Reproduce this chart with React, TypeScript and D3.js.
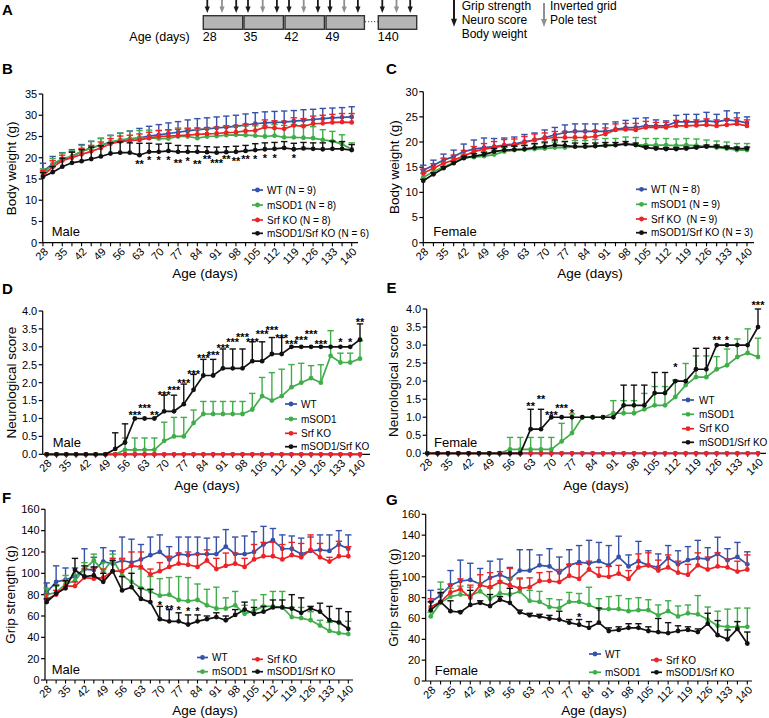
import React from "react";
import * as d3 from "d3";

// ---------- shared categories ----------
const DAYS = [28, 31.5, 35, 38.5, 42, 45.5, 49, 52.5, 56, 59.5, 63, 66.5, 70, 73.5, 77, 80.5, 84, 87.5, 91, 94.5, 98, 101.5, 105, 108.5, 112, 115.5, 119, 122.5, 126, 129.5, 133, 136.5, 140];
const TICK_DAYS = [28, 35, 42, 49, 56, 63, 70, 77, 84, 91, 98, 105, 112, 119, 126, 133, 140];
const GROUPS = ["WT", "mSOD1", "Srf KO", "mSOD1/Srf KO"];
const COLORS = ["#3651a8", "#3fae49", "#ec2227", "#111111"];

// ---------- B: male body weight ----------
const bwMaleWT = [16.8, 18.5, 19.5, 20.3, 21.5, 22.3, 23.0, 23.6, 24.0, 24.3, 24.7, 25.1, 25.4, 25.7, 26.0, 26.3, 26.6, 26.8, 27.0, 27.2, 27.4, 27.7, 28.0, 28.2, 28.3, 28.4, 28.6, 28.8, 29.0, 29.2, 29.4, 29.5, 29.6];
const bwMaleWTErr = [1.9, 1.8, 1.7, 1.6, 1.6, 1.6, 1.6, 1.7, 1.8, 2.0, 2.2, 2.3, 2.4, 2.5, 2.5, 2.6, 2.6, 2.6, 2.6, 2.6, 2.6, 2.6, 2.6, 2.6, 2.6, 2.6, 2.5, 2.5, 2.4, 2.4, 2.3, 2.3, 2.4];
const bwMaleSOD = [16.2, 18.5, 19.8, 20.3, 21.5, 22.3, 23.0, 23.7, 24.2, 24.5, 24.6, 24.7, 24.5, 24.5, 25.0, 25.0, 24.6, 25.0, 25.1, 25.3, 25.4, 25.3, 25.2, 25.0, 25.2, 24.8, 24.8, 24.7, 24.6, 24.2, 23.9, 23.2, 22.0];
const bwMaleSODErr = [1.2, 1.3, 1.3, 1.3, 1.4, 1.5, 1.5, 1.5, 1.6, 1.7, 1.8, 1.8, 1.9, 2.0, 2.0, 2.0, 2.0, 2.0, 2.0, 2.1, 2.1, 2.2, 2.3, 2.5, 2.6, 2.8, 3.0, 3.0, 2.7, 2.4, 2.3, 2.2, 1.5];
const bwMaleKO = [15.8, 17.8, 19.3, 20.0, 20.8, 21.5, 22.3, 23.3, 23.8, 24.0, 24.2, 24.6, 25.0, 25.1, 25.2, 25.3, 25.5, 25.6, 25.7, 25.9, 26.0, 26.3, 26.4, 27.2, 27.0, 26.8, 27.6, 27.4, 28.0, 28.1, 28.3, 28.4, 28.3];
const bwMaleKOErr = [1.2, 1.5, 1.3, 1.4, 1.4, 1.4, 1.4, 1.2, 1.3, 1.3, 1.4, 1.4, 1.4, 1.5, 1.5, 1.5, 1.5, 1.5, 1.5, 1.6, 1.6, 1.6, 1.6, 1.7, 1.7, 1.8, 1.8, 1.8, 1.8, 1.9, 1.9, 2.0, 2.1];
const bwMaleDKO = [15.5, 16.6, 17.9, 18.8, 19.2, 19.7, 20.3, 21.0, 21.2, 21.2, 20.6, 21.4, 21.4, 21.6, 21.4, 21.4, 21.4, 21.3, 21.2, 21.3, 21.4, 21.6, 21.8, 22.0, 22.1, 22.3, 22.0, 22.2, 22.1, 22.0, 22.1, 22.1, 21.8];
const bwMaleDKOErr = [1.0, 1.3, 2.0, 2.5, 2.7, 2.8, 2.5, 2.5, 2.5, 2.3, 2.8, 2.0, 1.8, 1.8, 1.5, 1.4, 1.4, 1.3, 1.3, 1.3, 1.3, 1.3, 1.5, 1.5, 1.5, 1.5, 1.4, 1.4, 1.4, 1.5, 1.8, 1.7, 1.3];
const bwMaleStars = ["", "", "", "", "", "", "", "", "", "", "**", "*", "*", "*", "**", "*", "**", "**", "***", "**", "**", "**", "*", "*", "*", "", "*", "", "", "", "", "", ""];
const bwMaleStarY = [0, 0, 0, 0, 0, 0, 0, 0, 0, 0, 18.9, 19.9, 19.9, 19.9, 19.2, 19.7, 18.9, 20.1, 19.2, 20.1, 19.7, 20.1, 20.25, 20.4, 20.4, 0, 20.4, 0, 0, 0, 0, 0, 0];
const bwMaleLegend = ["WT (N = 9)", "mSOD1 (N = 8)", "Srf KO (N = 8)", "mSOD1/Srf KO (N = 6)"];

// ---------- C: female body weight ----------
const bwFemWT = [14.4, 15.4, 16.4, 17.1, 18.1, 18.6, 18.9, 19.1, 19.4, 19.6, 20.1, 20.4, 20.9, 21.4, 21.9, 22.1, 22.1, 22.1, 22.1, 22.5, 22.8, 22.9, 23.2, 23.2, 23.2, 24.0, 24.0, 24.0, 24.2, 24.0, 24.4, 24.2, 23.8];
const bwFemWTErr = [1.0, 1.0, 1.2, 1.3, 1.5, 1.8, 1.9, 1.6, 1.4, 1.4, 1.4, 1.4, 1.5, 1.5, 1.5, 1.5, 1.5, 1.5, 1.5, 1.5, 1.5, 1.8, 1.6, 1.2, 1.0, 1.3, 1.5, 1.5, 1.7, 1.5, 1.8, 1.6, 1.2];
const bwFemSOD = [13.0, 14.1, 15.1, 15.9, 16.9, 17.0, 17.2, 17.5, 18.1, 18.4, 18.5, 18.6, 18.7, 18.9, 18.9, 19.1, 19.1, 19.2, 19.4, 19.4, 19.7, 19.5, 19.4, 19.4, 19.4, 19.3, 19.4, 19.3, 19.1, 18.9, 18.7, 18.4, 18.4];
const bwFemSODErr = [0.8, 0.8, 0.8, 0.8, 0.7, 0.7, 0.7, 0.8, 0.8, 0.8, 0.9, 1.0, 1.1, 1.1, 1.2, 1.2, 1.2, 1.3, 1.3, 1.3, 1.3, 1.4, 1.3, 1.3, 1.3, 1.3, 1.3, 1.3, 1.3, 1.3, 1.3, 1.3, 1.3];
const bwFemKO = [13.8, 14.8, 15.8, 16.4, 17.2, 18.1, 18.6, 18.9, 19.3, 19.4, 19.9, 20.4, 20.7, 20.9, 20.9, 20.9, 20.9, 21.1, 21.6, 22.4, 22.5, 22.4, 22.9, 22.9, 22.9, 23.2, 23.2, 23.3, 23.4, 23.2, 23.4, 23.6, 23.2];
const bwFemKOErr = [0.8, 0.9, 1.0, 1.0, 1.1, 1.0, 1.1, 1.2, 1.2, 1.2, 1.2, 1.2, 1.1, 1.2, 1.2, 1.2, 1.2, 1.2, 1.2, 1.2, 1.2, 1.3, 1.2, 1.0, 1.0, 1.1, 1.1, 1.1, 1.2, 1.2, 1.2, 1.2, 1.2];
const bwFemDKO = [12.3, 13.6, 14.8, 15.8, 16.8, 17.2, 17.5, 18.1, 18.4, 18.5, 18.6, 18.9, 19.1, 19.4, 19.3, 19.1, 19.1, 19.2, 19.3, 19.4, 19.6, 19.4, 18.9, 18.7, 18.6, 18.6, 18.7, 18.9, 19.1, 19.1, 18.9, 18.7, 18.7];
const bwFemDKOErr = [0.3, 0.3, 0.3, 0.3, 0.4, 0.5, 0.5, 0.6, 0.7, 0.7, 0.7, 0.8, 0.9, 1.0, 0.8, 0.7, 0.6, 0.6, 0.6, 0.5, 0.5, 0.4, 0.3, 0.3, 0.3, 0.3, 0.3, 0.3, 0.3, 0.3, 0.3, 0.3, 0.3];
const bwFemLegend = ["WT (N = 8)", "mSOD1 (N = 9)", "Srf KO  (N = 9)", "mSOD1/Srf KO (N = 3)"];

// ---------- D: male neurological score ----------
const nsMaleWT = [0, 0, 0, 0, 0, 0, 0, 0, 0, 0, 0, 0, 0, 0, 0, 0, 0, 0, 0, 0, 0, 0, 0, 0, 0, 0, 0, 0, 0, 0, 0, 0, 0];
const nsMaleKO = [0, 0, 0, 0, 0, 0, 0, 0, 0, 0, 0, 0, 0, 0, 0, 0, 0, 0, 0, 0, 0, 0, 0, 0, 0, 0, 0, 0, 0, 0, 0, 0, 0];
const nsMaleSOD = [0, 0, 0, 0, 0, 0, 0, 0, 0.125, 0.125, 0.125, 0.125, 0.375, 0.5, 0.5, 0.875, 1.125, 1.125, 1.125, 1.125, 1.125, 1.25, 1.625, 1.5, 1.625, 1.875, 2.0, 2.125, 2.0, 2.75, 2.5625, 2.5625, 2.67];
const nsMaleSODErr = [0, 0, 0, 0, 0, 0, 0, 0, 0.33, 0.33, 0.33, 0.33, 0.52, 0.53, 0.53, 0.36, 0.35, 0.35, 0.35, 0.35, 0.35, 0.45, 0.52, 0.78, 0.75, 0.63, 0.54, 0.35, 0.5, 0.7, 0.26, 0.26, 0.5];
const nsMaleDKO = [0, 0, 0, 0, 0, 0, 0, 0.15, 0.33, 1.0, 1.0, 1.0, 1.2, 1.2, 1.4, 1.8, 2.2, 2.2, 2.4, 2.4, 2.4, 2.6, 2.6, 2.8, 2.8, 3.0, 3.0, 3.0, 3.0, 3.0, 3.0, 3.0, 3.2];
const nsMaleDKOErr = [0, 0, 0, 0, 0, 0, 0, 0.45, 0.52, 0, 0, 0, 0.45, 0.45, 0.56, 0.43, 0.45, 0.45, 0.54, 0.54, 0.54, 0.54, 0.54, 0.46, 0.46, 0, 0, 0, 0, 0, 0, 0, 0.44];
const nsMaleStars = ["", "", "", "", "", "", "", "", "", "***", "***", "**", "***", "***", "***", "***", "***", "***", "***", "***", "***", "***", "***", "***", "***", "***", "***", "***", "***", "", "*", "*", "**"];
const nsMaleStarY = [0, 0, 0, 0, 0, 0, 0, 0, 0, 1.14, 1.35, 1.14, 1.7, 1.84, 2.05, 2.31, 2.73, 2.82, 3.03, 3.19, 3.33, 3.19, 3.4, 3.52, 3.31, 3.14, 3.24, 3.42, 3.14, 0, 3.19, 3.19, 3.75];

// ---------- E: female neurological score ----------
const nsFemWT = [0, 0, 0, 0, 0, 0, 0, 0, 0, 0, 0, 0, 0, 0, 0, 0, 0, 0, 0, 0, 0, 0, 0, 0, 0, 0, 0, 0, 0, 0, 0, 0, 0];
const nsFemKO = [0, 0, 0, 0, 0, 0, 0, 0, 0, 0, 0, 0, 0, 0, 0, 0, 0, 0, 0, 0, 0, 0, 0, 0, 0, 0, 0, 0, 0, 0, 0, 0, 0];
const nsFemSOD = [0, 0, 0, 0, 0, 0, 0, 0, 0.11, 0.11, 0.11, 0.11, 0.11, 0.33, 0.56, 1, 1, 1, 1.11, 1.11, 1.11, 1.22, 1.33, 1.33, 1.56, 1.89, 2.11, 2.11, 2.33, 2.44, 2.67, 2.78, 2.67];
const nsFemSODErr = [0, 0, 0, 0, 0, 0, 0, 0, 0.33, 0.33, 0.33, 0.33, 0.33, 0.5, 0.53, 0, 0, 0, 0.35, 0.35, 0.35, 0.44, 0.52, 0.52, 0.47, 0.6, 0.59, 0.59, 0.35, 0.45, 0.5, 0.67, 0.52];
const nsFemDKO = [0, 0, 0, 0, 0, 0, 0, 0, 0, 0, 0.67, 0.67, 1, 1, 1, 1, 1, 1, 1, 1.33, 1.33, 1.33, 1.67, 1.67, 2, 2, 2.33, 2.33, 3, 3, 3, 3, 3.5];
const nsFemDKOErr = [0, 0, 0, 0, 0, 0, 0, 0, 0, 0, 0.55, 0.55, 0, 0, 0, 0, 0, 0, 0, 0.56, 0.56, 0.56, 0.57, 0.57, 0, 0, 0.58, 0.58, 0, 0, 0, 0, 0.5];
const nsFemStars = ["", "", "", "", "", "", "", "", "", "", "**", "**", "***", "***", "*", "", "", "", "", "", "", "", "", "", "*", "", "", "", "**", "*", "", "", "***"];
const nsFemStarY = [0, 0, 0, 0, 0, 0, 0, 0, 0, 0, 1.37, 1.57, 1.11, 1.31, 1.17, 0, 0, 0, 0, 0, 0, 0, 0, 0, 2.45, 0, 0, 0, 3.19, 3.19, 0, 0, 4.16];

// ---------- F: male grip strength ----------
const gsMaleWT = [82, 92, 94, 97, 104, 103, 111, 109, 112, 110, 113, 117, 120, 113, 118, 117, 118, 118, 118, 125, 118, 118, 120, 127, 131, 123, 123, 118, 121, 122, 121, 127, 123];
const gsMaleWTErr = [9, 15, 11, 8, 19, 12, 13, 12, 22, 22, 14, 17, 16, 12, 16, 17, 16, 15, 16, 16, 16, 17, 19, 17, 11, 13, 12, 15, 13, 14, 15, 13, 13];
const gsMaleSOD = [80, 82, 90, 93, 104, 112, 102, 113, 98, 92, 86, 83, 79, 80, 75, 74, 75, 70, 67, 67, 70, 62, 65, 69, 69, 68, 59, 58, 56, 51, 46, 44, 43];
const gsMaleSODErr = [6, 6, 8, 6, 6, 6, 8, 5, 15, 15, 18, 14, 16, 16, 22, 22, 15, 15, 20, 10, 13, 8, 10, 11, 14, 15, 9, 10, 8, 5, 8, 10, 12];
const gsMaleKO = [76, 80, 88, 88, 96, 95, 96, 102, 102, 107, 106, 99, 102, 106, 109, 108, 106, 112, 104, 107, 109, 106, 113, 116, 116, 113, 117, 115, 122, 115, 111, 116, 116];
const gsMaleKOErr = [5, 4, 5, 4, 8, 10, 8, 12, 12, 13, 14, 5, 8, 10, 10, 12, 12, 10, 10, 12, 10, 8, 14, 13, 13, 14, 12, 13, 14, 13, 4, 14, 9];
const gsMaleDKO = [73, 81, 86, 103, 97, 98, 92, 102, 84, 87, 76, 73, 57, 55, 55, 52, 55, 57, 59, 56, 61, 66, 62, 64, 68, 68, 67, 63, 67, 64, 56, 54, 48];
const gsMaleDKOErr = [3, 8, 7, 11, 10, 8, 8, 10, 13, 13, 10, 12, 12, 11, 8, 9, 6, 3, 4, 4, 5, 7, 6, 5, 7, 7, 13, 14, 2, 8, 13, 13, 16];
const gsMaleStars = ["", "", "", "", "", "", "", "", "", "", "", "", "*", "**", "*", "*", "*", "", "", "", "", "", "", "", "", "", "", "", "", "", "", "", ""];
const gsMaleStarY = [0, 0, 0, 0, 0, 0, 0, 0, 0, 0, 0, 0, 72.5, 68.8, 67.8, 66.3, 66.3, 0, 0, 0, 0, 0, 0, 0, 0, 0, 0, 0, 0, 0, 0, 0, 0];

// ---------- G: female grip strength ----------
const gsFemWT = [76, 82, 92, 96, 97, 93, 99, 102, 98, 106, 106, 111, 110, 104, 111, 114, 113, 115, 111, 119, 110, 115, 111, 109, 118, 112, 116, 118, 117, 122, 116, 119, 112];
const gsFemWTErr = [11, 6, 14, 20, 16, 15, 16, 15, 11, 20, 20, 10, 17, 15, 15, 16, 22, 18, 19, 20, 11, 19, 14, 13, 12, 13, 13, 17, 11, 16, 11, 14, 12];
const gsFemSOD = [62, 75, 81, 83, 82, 86, 79, 84, 83, 86, 77, 76, 71, 70, 76, 76, 73, 69, 69, 69, 67, 68, 68, 63, 67, 62, 65, 64, 59, 53, 52, 52, 52];
const gsFemSODErr = [4, 20, 8, 8, 8, 8, 10, 12, 15, 13, 10, 10, 8, 8, 9, 8, 17, 10, 12, 13, 12, 12, 10, 10, 10, 10, 8, 18, 12, 14, 17, 18, 18];
const gsFemKO = [71, 76, 85, 88, 80, 92, 90, 95, 92, 89, 90, 96, 96, 95, 101, 98, 107, 101, 100, 103, 98, 109, 111, 106, 109, 104, 102, 111, 107, 110, 109, 105, 107];
const gsFemKOErr = [8, 8, 8, 10, 12, 10, 14, 10, 16, 9, 9, 8, 9, 12, 11, 14, 8, 8, 10, 8, 8, 13, 12, 10, 12, 11, 10, 12, 12, 13, 8, 10, 14];
const gsFemDKO = [68, 76, 67, 66, 73, 75, 72, 78, 75, 66, 63, 62, 60, 59, 56, 54, 51, 56, 48, 49, 51, 51, 48, 47, 46, 48, 49, 47, 55, 44, 40, 50, 36];
const gsFemDKOErr = [8, 9, 10, 1, 14, 2, 11, 3, 14, 2, 2, 2, 3, 8, 3, 5, 6, 14, 3, 3, 4, 4, 4, 13, 10, 5, 3, 3, 10, 14, 9, 7, 11];
const gsFemStars = ["", "", "", "", "", "", "", "", "", "", "", "", "", "", "", "*", "", "", "", "", "", "", "", "", "", "", "", "", "", "", "", "", ""];
const gsFemStarY = [0, 0, 0, 0, 0, 0, 0, 0, 0, 0, 0, 0, 0, 0, 0, 63, 0, 0, 0, 0, 0, 0, 0, 0, 0, 0, 0, 0, 0, 0, 0, 0, 0];

// ---------- A: schematic ----------
const SCHEME_LABELS = ["28", "35", "42", "49", "140"];

const FONT = "'Liberation Sans', Arial, Helvetica, sans-serif";

type PanelCfg = {
  letter: string; lx: number; ly: number;
  axisX: number; x0: number; x1: number; xEnd: number;
  yBottom: number; yTop: number; yMax: number; yStep: number; yFmt: (v: number) => string;
  yTitle: string; yTitleX: number;
  xTitleX: number; xTitleY: number;
  sex: string; sexX: number; sexY: number;
  series: { values: number[]; errors: number[] | null }[];
  stars: string[] | null; starY: number[] | null;
  legendLabels: string[];
  legend: { lx1: number; lx2: number; tx: number; ty: number }[];
};

function Panel({ p }: { p: PanelCfg }) {
  const x = d3.scaleLinear().domain([DAYS[0], DAYS[DAYS.length - 1]]).range([p.x0, p.x1]);
  const y = d3.scaleLinear().domain([0, p.yMax]).range([p.yBottom, p.yTop]);
  const yTicks = d3.range(0, p.yMax + p.yStep / 2, p.yStep);
  const line = d3.line<number>().x((_, i) => x(DAYS[i])).y((d) => y(d));
  return (
    <g>
      <text x={p.lx} y={p.ly} fontSize={15} fontWeight="bold" fontFamily={FONT}>{p.letter}</text>
      {/* y axis */}
      <line x1={p.axisX} x2={p.axisX} y1={p.yBottom} y2={p.yTop} stroke="#000" strokeWidth={1.2} />
      {yTicks.map((t) => (
        <g key={"yt" + t}>
          <line x1={p.axisX - 4} x2={p.axisX} y1={y(t)} y2={y(t)} stroke="#000" strokeWidth={1.2} />
          <text x={p.axisX - 5.5} y={y(t)} dy="0.35em" textAnchor="end" fontSize={11} fontFamily={FONT}>{p.yFmt(t)}</text>
        </g>
      ))}
      <text transform={`translate(${p.yTitleX},${(p.yBottom + p.yTop) / 2}) rotate(-90)`} textAnchor="middle" dy="0.35em" fontSize={13.5} fontFamily={FONT}>{p.yTitle}</text>
      {/* x axis */}
      <line x1={p.axisX} x2={p.xEnd} y1={p.yBottom} y2={p.yBottom} stroke="#000" strokeWidth={1.2} />
      {DAYS.map((d) => (
        <line key={"xt" + d} x1={x(d)} x2={x(d)} y1={p.yBottom} y2={p.yBottom + 3.5} stroke="#000" strokeWidth={1.1} />
      ))}
      {TICK_DAYS.map((d) => (
        <text key={"xl" + d} transform={`translate(${x(d) + 3},${p.yBottom + 7}) rotate(-45)`} textAnchor="end" dy="0.35em" fontSize={11} fontFamily={FONT}>{d}</text>
      ))}
      <text x={p.xTitleX} y={p.xTitleY} textAnchor="middle" fontSize={13.5} fontFamily={FONT}>Age (days)</text>
      {/* series */}
      {p.series.map((s, si) => (
        <g key={"s" + si}>
          {s.errors && s.values.map((v, i) => {
            const e = s.errors![i];
            if (!e) return null;
            const cx = x(DAYS[i]);
            return (
              <g key={"e" + i}>
                <line x1={cx} x2={cx} y1={y(v)} y2={y(v + e)} stroke={COLORS[si]} strokeWidth={1.4} />
                <line x1={cx - 3.2} x2={cx + 3.2} y1={y(v + e)} y2={y(v + e)} stroke={COLORS[si]} strokeWidth={1.4} />
              </g>
            );
          })}
          <path d={line(s.values) || ""} fill="none" stroke={COLORS[si]} strokeWidth={1.7} />
          {s.values.map((v, i) => (
            <circle key={"c" + i} cx={x(DAYS[i])} cy={y(v)} r={2.4} fill={COLORS[si]} />
          ))}
        </g>
      ))}
      {/* significance */}
      {p.stars && p.stars.map((st, i) => st ? (
        <text key={"st" + i} x={x(DAYS[i])} y={y(p.starY![i]) + 6} textAnchor="middle" fontSize={11} fontWeight="bold" fontFamily={FONT}>{st}</text>
      ) : null)}
      <text x={p.sexX} y={p.sexY} fontSize={13} fontFamily={FONT}>{p.sex}</text>
      {/* legend */}
      {p.legend.map((l, i) => (
        <g key={"lg" + i}>
          <line x1={l.lx1} x2={l.lx2} y1={l.ty} y2={l.ty} stroke={COLORS[i]} strokeWidth={1.7} />
          <circle cx={(l.lx1 + l.lx2) / 2} cy={l.ty} r={2.4} fill={COLORS[i]} />
          <text x={l.tx} y={l.ty} dy="0.35em" fontSize={10} fontFamily={FONT} style={{ whiteSpace: "pre" }}>{p.legendLabels[i]}</text>
        </g>
      ))}
    </g>
  );
}

function Arrow({ x, y0, y1, color, head = 6.5, hw = 2.6, sw = 1.8 }: { x: number; y0: number; y1: number; color: string; head?: number; hw?: number; sw?: number }) {
  return (
    <g>
      <rect x={x - sw / 2} y={y0} width={sw} height={y1 - y0 - head + 0.5} fill={color} />
      <polygon points={`${x - hw},${y1 - head} ${x + hw},${y1 - head} ${x},${y1}`} fill={color} />
    </g>
  );
}

function Scheme() {
  const boxes = [
    { x: 203.3, w: 39.4 }, { x: 244.0, w: 39.4 }, { x: 285.0, w: 39.4 }, { x: 326.0, w: 38.4 }, { x: 378.3, w: 38.4 },
  ];
  return (
    <g>
      <text x={2} y={15} fontSize={15} fontWeight="bold" fontFamily={FONT}>A</text>
      {boxes.map((b, i) => (
        <g key={"b" + i}>
          <rect x={b.x} y={15.7} width={b.w} height={13.6} fill="#b5b5b5" stroke="#333" strokeWidth={1.4} />
          <Arrow x={b.x + 4} y0={0} y1={13} color="#1a1a1a" />
          <Arrow x={b.x + b.w / 2 - 1} y0={0} y1={13} color="#8f8f8f" />
          <Arrow x={b.x + b.w - 6.5} y0={0} y1={13} color="#1a1a1a" />
          <text x={b.x - 0.5} y={41} fontSize={12.5} fontFamily={FONT}>{SCHEME_LABELS[i]}</text>
        </g>
      ))}
      <line x1={365} x2={378} y1={21.7} y2={21.7} stroke="#444" strokeWidth={1} strokeDasharray="1.2,1.8" />
      <text x={129.3} y={41} fontSize={12.5} fontFamily={FONT}>Age (days)</text>
      <Arrow x={454} y0={0} y1={26.7} color="#1a1a1a" head={8} hw={3} sw={2} />
      <text x={461.7} y={10.3} fontSize={12} fontFamily={FONT}>Grip strength</text>
      <text x={461.7} y={24} fontSize={12} fontFamily={FONT}>Neuro score</text>
      <text x={461.7} y={37.6} fontSize={12} fontFamily={FONT}>Body weight</text>
      <Arrow x={544} y0={3} y1={27} color="#8f8f8f" head={8} hw={3} sw={2} />
      <text x={550} y={10.3} fontSize={12} fontFamily={FONT}>Inverted grid</text>
      <text x={550} y={24} fontSize={12} fontFamily={FONT}>Pole test</text>
    </g>
  );
}

const f0 = (v: number) => String(v);
const f1 = (v: number) => v.toFixed(1);
const NEURO_LEG = ["WT", "mSOD1", "Srf KO", "mSOD1/Srf KO"];

function legendCol(lx1: number, lx2: number, tx: number, ys: number[]) {
  return ys.map((ty) => ({ lx1, lx2, tx, ty }));
}

const panels: PanelCfg[] = [
  {
    letter: "B", lx: 2, ly: 73.5, axisX: 42.7, x0: 43, x1: 351.7, xEnd: 358,
    yBottom: 242.7, yTop: 94, yMax: 35, yStep: 5, yFmt: f0, yTitle: "Body weight (g)", yTitleX: 11,
    xTitleX: 205, xTitleY: 277.5, sex: "Male", sexX: 51.7, sexY: 236,
    series: [
      { values: bwMaleWT, errors: bwMaleWTErr }, { values: bwMaleSOD, errors: bwMaleSODErr },
      { values: bwMaleKO, errors: bwMaleKOErr }, { values: bwMaleDKO, errors: bwMaleDKOErr },
    ],
    stars: bwMaleStars, starY: bwMaleStarY, legendLabels: bwMaleLegend,
    legend: legendCol(252, 263, 267, [190, 205, 220, 233.3]),
  },
  {
    letter: "C", lx: 386, ly: 73.5, axisX: 423.3, x0: 423.3, x1: 747, xEnd: 754,
    yBottom: 242.7, yTop: 91.7, yMax: 30, yStep: 5, yFmt: f0, yTitle: "Body weight (g)", yTitleX: 394,
    xTitleX: 590, xTitleY: 277.5, sex: "Female", sexX: 433.3, sexY: 236,
    series: [
      { values: bwFemWT, errors: bwFemWTErr }, { values: bwFemSOD, errors: bwFemSODErr },
      { values: bwFemKO, errors: bwFemKOErr }, { values: bwFemDKO, errors: bwFemDKOErr },
    ],
    stars: null, starY: null, legendLabels: bwFemLegend,
    legend: legendCol(636, 647, 651, [189.3, 204.3, 219, 232.7]),
  },
  {
    letter: "D", lx: 2, ly: 293.5, axisX: 42.7, x0: 46.7, x1: 360, xEnd: 370,
    yBottom: 454.3, yTop: 311, yMax: 4, yStep: 0.5, yFmt: f1, yTitle: "Neurological score", yTitleX: 11,
    xTitleX: 207, xTitleY: 490, sex: "Male", sexX: 52.7, sexY: 447,
    series: [
      { values: nsMaleWT, errors: null }, { values: nsMaleSOD, errors: nsMaleSODErr },
      { values: nsMaleKO, errors: null }, { values: nsMaleDKO, errors: nsMaleDKOErr },
    ],
    stars: nsMaleStars, starY: nsMaleStarY, legendLabels: NEURO_LEG,
    legend: legendCol(285, 297, 301, [404, 419, 433.3, 446.7]),
  },
  {
    letter: "E", lx: 386.5, ly: 293, axisX: 426.7, x0: 427.3, x1: 758, xEnd: 766,
    yBottom: 453.3, yTop: 309, yMax: 4, yStep: 0.5, yFmt: f1, yTitle: "Neurological score", yTitleX: 393.5,
    xTitleX: 596, xTitleY: 489.5, sex: "Female", sexX: 434, sexY: 447,
    series: [
      { values: nsFemWT, errors: null }, { values: nsFemSOD, errors: nsFemSODErr },
      { values: nsFemKO, errors: null }, { values: nsFemDKO, errors: nsFemDKOErr },
    ],
    stars: nsFemStars, starY: nsFemStarY, legendLabels: NEURO_LEG,
    legend: legendCol(682, 694, 699, [400, 414.3, 428.7, 442.3]),
  },
  {
    letter: "F", lx: 2, ly: 503, axisX: 45, x0: 46.7, x1: 348.3, xEnd: 353,
    yBottom: 680, yTop: 509.3, yMax: 160, yStep: 20, yFmt: f0, yTitle: "Grip strength (g)", yTitleX: 10.5,
    xTitleX: 205, xTitleY: 714.5, sex: "Male", sexX: 51.7, sexY: 673.5,
    series: [
      { values: gsMaleWT, errors: gsMaleWTErr }, { values: gsMaleSOD, errors: gsMaleSODErr },
      { values: gsMaleKO, errors: gsMaleKOErr }, { values: gsMaleDKO, errors: gsMaleDKOErr },
    ],
    stars: gsMaleStars, starY: gsMaleStarY, legendLabels: NEURO_LEG,
    legend: [
      { lx1: 197, lx2: 208, tx: 212, ty: 657.5 }, { lx1: 197, lx2: 208, tx: 212, ty: 671.7 },
      { lx1: 252, lx2: 263, tx: 267, ty: 659.3 }, { lx1: 252, lx2: 263, tx: 267, ty: 671.7 },
    ],
  },
  {
    letter: "G", lx: 386, ly: 505, axisX: 425.7, x0: 430.7, x1: 747.3, xEnd: 752,
    yBottom: 681, yTop: 514.3, yMax: 160, yStep: 20, yFmt: f0, yTitle: "Grip strength (g)", yTitleX: 393.5,
    xTitleX: 594, xTitleY: 714.5, sex: "Female", sexX: 434.7, sexY: 674.5,
    series: [
      { values: gsFemWT, errors: gsFemWTErr }, { values: gsFemSOD, errors: gsFemSODErr },
      { values: gsFemKO, errors: gsFemKOErr }, { values: gsFemDKO, errors: gsFemDKOErr },
    ],
    stars: gsFemStars, starY: gsFemStarY, legendLabels: NEURO_LEG,
    legend: [
      { lx1: 589, lx2: 601, tx: 605, ty: 654 }, { lx1: 589, lx2: 601, tx: 605, ty: 672.3 },
      { lx1: 651, lx2: 662, tx: 666, ty: 660 }, { lx1: 651, lx2: 662, tx: 666, ty: 672.3 },
    ],
  },
];

export default function App() {
  return (
    <svg width={769} height={718} viewBox="0 0 769 718" style={{ position: "absolute", left: 0, top: 0, background: "#fff" }}>
      <rect width={769} height={718} fill="#fff" />
      <Scheme />
      {panels.map((p) => <Panel key={p.letter} p={p} />)}
    </svg>
  );
}
